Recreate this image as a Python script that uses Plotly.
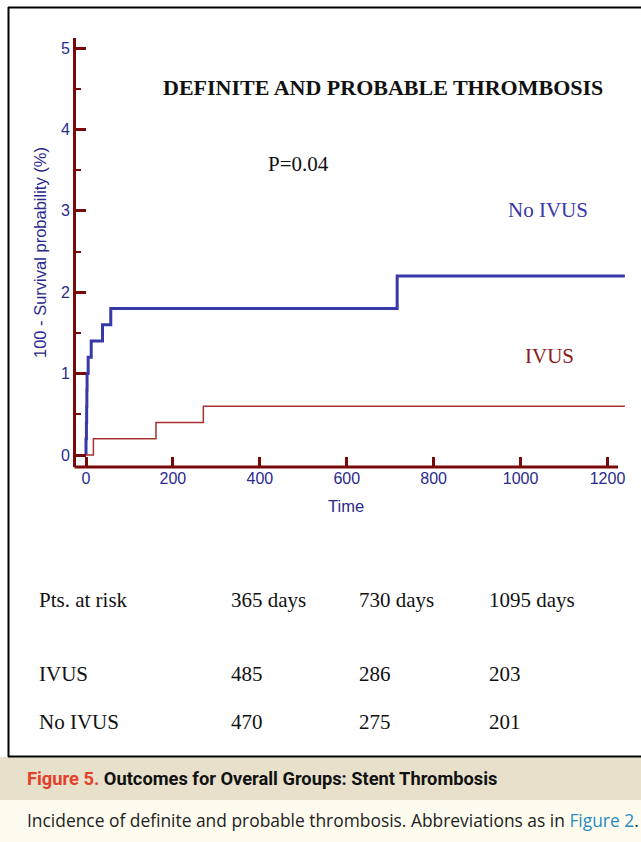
import plotly.graph_objects as go

# ---- data ----
no_ivus_days = [0, 0, 1, 1.5, 2, 2.5, 5, 12, 38, 57, 716, 1240]
no_ivus_pct = [0, 0.2, 0.4, 0.6, 0.8, 1.0, 1.2, 1.4, 1.6, 1.8, 2.2, 2.2]
ivus_days = [0, 17, 161, 270, 1240]
ivus_pct = [0, 0.2, 0.4, 0.6, 0.6]

x_ticks = [0, 200, 400, 600, 800, 1000, 1200]
y_ticks = [0, 1, 2, 3, 4, 5]

risk_header = ["365 days", "730 days", "1095 days"]
risk_groups = ["IVUS", "No IVUS"]
risk_ivus = [485, 286, 203]
risk_no_ivus = [470, 275, 201]

W, H = 641, 842
AX = "#7A0A0A"
LBL = "#2A2A8C"
BLUE = "#3838A8"
RED = "#A83232"
SERIF = "Liberation Serif"

def px(x):
    return x / W

def py(y):
    return 1 - y / H

fig = go.Figure()
fig.add_trace(go.Scatter(x=no_ivus_days, y=no_ivus_pct, mode="lines",
                         line=dict(color=BLUE, width=3, shape="hv"),
                         name="No IVUS", showlegend=False))
fig.add_trace(go.Scatter(x=ivus_days, y=ivus_pct, mode="lines",
                         line=dict(color=RED, width=1.5, shape="hv"),
                         name="IVUS", showlegend=False))

# x: 0 at 86px, 1200 at 607.5px
xs = (607.5 - 86) / 1200.0
x_left = 76
x_right = 626
ys = (455 - 48) / 5.0
y_top = 38
y_bot = 467

fig.update_layout(
    width=W, height=H,
    margin=dict(l=0, r=0, t=0, b=0),
    paper_bgcolor="white", plot_bgcolor="white",
    xaxis=dict(domain=[px(x_left), px(x_right)],
               range=[(x_left - 86) / xs, (x_right - 86) / xs],
               tickvals=x_ticks, ticks="inside", ticklen=10, tickwidth=3,
               tickcolor=AX, showline=False, showgrid=False, zeroline=False,
               tickfont=dict(family="Liberation Sans", size=16, color=LBL)),
    yaxis=dict(domain=[py(y_bot), py(y_top)],
               range=[(455 - y_bot) / ys, (455 - y_top) / ys],
               tickvals=y_ticks, ticks="inside", ticklen=10, tickwidth=3,
               tickcolor=AX, showline=True, linewidth=3, linecolor=AX,
               showgrid=False, zeroline=False,
               minor=dict(ticks="inside", ticklen=5, tickwidth=2, dtick=0.5,
                          tickcolor=AX, showgrid=False),
               tickfont=dict(family="Liberation Sans", size=16, color=LBL)),
)

shapes = []
# x axis line (ends where the axis ends in the original)
shapes.append(dict(type="line", xref="paper", yref="paper",
                   x0=px(x_left - 1.5), x1=px(618), y0=py(y_bot), y1=py(y_bot),
                   line=dict(color=AX, width=3)))
# caption bands
shapes.append(dict(type="rect", xref="paper", yref="paper", layer="below",
                   x0=0, x1=1, y0=py(800), y1=py(757),
                   fillcolor="#E7E0CA", line=dict(width=0)))
shapes.append(dict(type="rect", xref="paper", yref="paper", layer="below",
                   x0=0, x1=1, y0=0, y1=py(800),
                   fillcolor="#FEFCEE", line=dict(width=0)))
# frame
shapes.append(dict(type="line", xref="paper", yref="paper",
                   x0=px(8.5), x1=px(8.5), y0=py(757), y1=py(7),
                   line=dict(color="black", width=2)))
shapes.append(dict(type="line", xref="paper", yref="paper",
                   x0=px(8), x1=1, y0=py(7.5), y1=py(7.5),
                   line=dict(color="black", width=2)))
shapes.append(dict(type="line", xref="paper", yref="paper",
                   x0=px(8), x1=1, y0=py(756.5), y1=py(756.5),
                   line=dict(color="black", width=2)))
fig.update_layout(shapes=shapes)

ann = []
def text(x, y, s, size, color, family=SERIF, xanchor="center", angle=0):
    ann.append(dict(x=px(x), y=py(y), xref="paper", yref="paper", text=s,
                    showarrow=False, xanchor=xanchor, yanchor="middle",
                    textangle=angle,
                    font=dict(family=family, size=size, color=color)))

text(383, 87, "<b>DEFINITE AND PROBABLE THROMBOSIS</b>", 22, "#111111")
text(298, 164, "P=0.04", 21, "#111111")
text(548, 210, "No IVUS", 21, BLUE)
text(549, 356, "IVUS", 21, "#8B1A1A")
text(40, 253, "100 - Survival probability (%)", 16.5, LBL, family="Liberation Sans", angle=-90)
text(346, 506, "Time", 16.5, LBL, family="Liberation Sans")

col_x = [229, 357, 487]
text(37, 600, "Pts. at risk", 21, "#111111", xanchor="left")
for cx, h in zip(col_x, risk_header):
    text(cx, 600, h, 21, "#111111", xanchor="left")
rows_y = [674, 722]
for ry, g, vals in zip(rows_y, risk_groups, [risk_ivus, risk_no_ivus]):
    text(37, ry, g, 21, "#111111", xanchor="left")
    for cx, v in zip(col_x, vals):
        text(cx, ry, str(v), 21, "#111111", xanchor="left")

text(25, 778, "<b><span style='color:#E2412B'>Figure 5.</span> Outcomes for Overall Groups: Stent Thrombosis</b>",
     18.3, "#111111", family="Roboto", xanchor="left")
text(25, 820, "Incidence of definite and probable thrombosis. Abbreviations as in <span style='color:#2A8BC0'>Figure 2</span>.",
     17.4, "#222222", family="Open Sans", xanchor="left")
fig.update_layout(annotations=ann)

fig.write_html("out.html", config={"displayModeBar": False},
               post_script="document.body.style.margin='0';document.body.style.overflow='hidden';")
